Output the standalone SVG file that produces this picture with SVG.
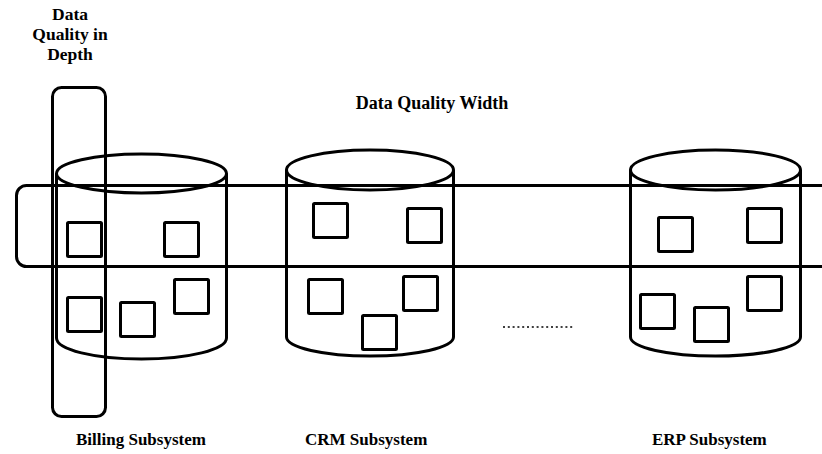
<svg xmlns="http://www.w3.org/2000/svg" width="822" height="454" viewBox="0 0 822 454">
<style>
.ln{fill:none;stroke:#000;stroke-width:3}
.sq{fill:none;stroke:#000;stroke-width:3}
.t{font-family:"Liberation Serif","Times New Roman",serif;font-weight:bold;font-size:17px;fill:#000}
</style>
<rect width="822" height="454" fill="#fff"/>
<g id="billing">
<ellipse class="ln" cx="141.5" cy="173.5" rx="85" ry="19.5"/>
<path class="ln" d="M56.5,173.5 V338 A85,21 0 0 0 226.5,338 V173.5"/>
<rect class="sq" x="67.5" y="222.5" width="34" height="34" rx="1"/>
<rect class="sq" x="164.5" y="222.5" width="34" height="34" rx="1"/>
<rect class="sq" x="67.5" y="297.5" width="34" height="34" rx="1"/>
<rect class="sq" x="120.5" y="302.5" width="34" height="34" rx="1"/>
<rect class="sq" x="174.5" y="279.5" width="34" height="34" rx="1"/>
<text class="t" x="76" y="445">Billing Subsystem</text>
</g>
<g id="crm">
<ellipse class="ln" cx="370" cy="170" rx="83.5" ry="20"/>
<path class="ln" d="M286.5,170 V337 A83.5,19 0 0 0 453.5,337 V170"/>
<rect class="sq" x="313.5" y="203.5" width="34" height="34" rx="1"/>
<rect class="sq" x="407.5" y="208.5" width="34" height="34" rx="1"/>
<rect class="sq" x="308.5" y="279.5" width="34" height="34" rx="1"/>
<rect class="sq" x="403.5" y="276.5" width="34" height="34" rx="1"/>
<rect class="sq" x="362.5" y="315.5" width="34" height="34" rx="1"/>
<text class="t" x="305" y="445">CRM Subsystem</text>
</g>
<g id="erp">
<ellipse class="ln" cx="715.5" cy="170" rx="85" ry="20"/>
<path class="ln" d="M630.5,170 V337 A85,19 0 0 0 800.5,337 V170"/>
<rect class="sq" x="658.5" y="217.5" width="34" height="34" rx="1"/>
<rect class="sq" x="747.5" y="208.5" width="34" height="34" rx="1"/>
<rect class="sq" x="640.5" y="294.5" width="34" height="34" rx="1"/>
<rect class="sq" x="694.5" y="307.5" width="34" height="34" rx="1"/>
<rect class="sq" x="747.5" y="276.5" width="34" height="34" rx="1"/>
<text class="t" x="652" y="445">ERP Subsystem</text>
</g>
<g id="depth">
<rect class="ln" x="52.5" y="87.5" width="53" height="329" rx="9"/>
<text class="t" text-anchor="middle" style="font-size:17.5px"><tspan x="70" y="20">Data</tspan><tspan x="70" y="40">Quality in</tspan><tspan x="70" y="60">Depth</tspan></text>
</g>
<g id="width">
<rect class="ln" x="16.5" y="185.5" width="830" height="81" rx="10"/>
<text class="t" x="432" y="109" text-anchor="middle" style="font-size:18px">Data Quality Width</text>
</g>
<g id="connectors">
<line x1="503" y1="327" x2="575" y2="327" stroke="#000" stroke-width="1.5" stroke-dasharray="2 2.8"/>
</g>
</svg>
